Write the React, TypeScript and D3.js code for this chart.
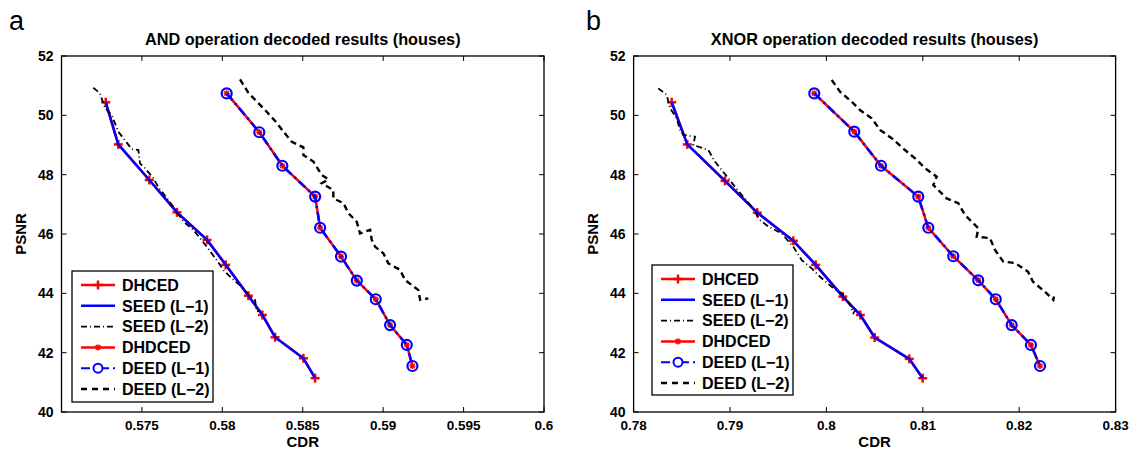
import React from "react";
import * as d3 from "d3";

// ---------- data ----------
const yTicks = [40, 42, 44, 46, 48, 50, 52];
const xTicksA = [0.575, 0.58, 0.585, 0.59, 0.595, 0.6];
const xTickLabelsA = ["0.575", "0.58", "0.585", "0.59", "0.595", "0.6"];
const xTicksB = [0.78, 0.79, 0.8, 0.81, 0.82, 0.83];
const xTickLabelsB = ["0.78", "0.79", "0.8", "0.81", "0.82", "0.83"];

// Panel a (AND)
const a_singleCDR = [0.57275, 0.57353, 0.57546, 0.57718, 0.57905, 0.58021, 0.58162, 0.58249, 0.58328, 0.58504, 0.58577];
const a_singlePSNR = [50.44, 49.02, 47.82, 46.73, 45.8, 44.96, 43.92, 43.27, 42.52, 41.81, 41.14];
const a_doubleCDR = [0.58027, 0.5823, 0.58373, 0.58577, 0.58608, 0.58738, 0.58836, 0.58954, 0.59043, 0.59147, 0.59182];
const a_doublePSNR = [50.74, 49.43, 48.3, 47.26, 46.21, 45.24, 44.43, 43.8, 42.93, 42.26, 41.55];
const a_seedL2CDR = [0.57198, 0.57239, 0.57271, 0.57312, 0.57353, 0.57384, 0.57437, 0.57478, 0.57488, 0.57519, 0.57571, 0.57613, 0.57633, 0.57695, 0.57758, 0.5782, 0.57903, 0.57965, 0.58006, 0.58058, 0.58131, 0.58162, 0.58203, 0.58214, 0.58234];
const a_seedL2PSNR = [50.93, 50.74, 50.24, 50.01, 49.45, 49.23, 48.86, 48.83, 48.38, 48.22, 47.88, 47.48, 47.37, 46.92, 46.42, 46.14, 45.57, 45.12, 44.79, 44.51, 44.17, 43.94, 43.78, 43.38, 43.44];
const a_deedL2CDR = [0.5811, 0.58162, 0.58224, 0.58276, 0.58338, 0.58386, 0.58432, 0.58504, 0.58504, 0.58566, 0.58618, 0.58659, 0.58618, 0.5869, 0.5869, 0.58753, 0.58784, 0.58836, 0.58856, 0.58919, 0.58929, 0.5895, 0.59001, 0.59032, 0.59105, 0.59136, 0.59219, 0.5923, 0.59281];
const a_deedL2PSNR = [51.21, 50.76, 50.41, 50.12, 49.75, 49.41, 49.11, 48.92, 48.66, 48.44, 47.99, 47.84, 47.71, 47.48, 47.2, 47.04, 46.7, 46.41, 46.02, 46.14, 45.8, 45.57, 45.35, 45.01, 44.79, 44.45, 44.11, 43.78, 43.83];

// Panel b (XNOR)
const b_singleCDR = [0.78395, 0.78557, 0.78948, 0.79283, 0.79657, 0.79889, 0.8017, 0.80352, 0.80501, 0.8086, 0.80999];
const b_singlePSNR = [50.44, 49.02, 47.79, 46.72, 45.77, 44.96, 43.89, 43.27, 42.51, 41.79, 41.14];
const b_doubleCDR = [0.79874, 0.80289, 0.80566, 0.80953, 0.81057, 0.81316, 0.81575, 0.81757, 0.81922, 0.82122, 0.82216];
const b_doublePSNR = [50.74, 49.45, 48.3, 47.26, 46.21, 45.25, 44.44, 43.8, 42.93, 42.26, 41.55];
const b_seedL2CDR = [0.78256, 0.78343, 0.78378, 0.78447, 0.78481, 0.78516, 0.78637, 0.78619, 0.78775, 0.78844, 0.78982, 0.79052, 0.79121, 0.79225, 0.79311, 0.79397, 0.79536, 0.79657, 0.79744, 0.79847, 0.79934, 0.80055, 0.80159, 0.8021, 0.80245, 0.80279, 0.80297];
const b_seedL2PSNR = [50.91, 50.69, 50.24, 49.9, 49.51, 49.34, 49.28, 49.0, 48.83, 48.44, 47.88, 47.59, 47.32, 46.92, 46.47, 46.25, 46.02, 45.57, 45.12, 44.84, 44.56, 44.22, 44.0, 43.78, 43.61, 43.33, 43.41];
const b_deedL2CDR = [0.80055, 0.80141, 0.80262, 0.80348, 0.8047, 0.80556, 0.80677, 0.80815, 0.80919, 0.81023, 0.81144, 0.81109, 0.81161, 0.81248, 0.81368, 0.81438, 0.81576, 0.81559, 0.81697, 0.81749, 0.81835, 0.81956, 0.82091, 0.82143, 0.82285, 0.82354, 0.82361];
const b_deedL2PSNR = [51.19, 50.8, 50.46, 50.18, 49.9, 49.51, 49.23, 48.83, 48.55, 48.22, 47.93, 47.65, 47.48, 47.2, 47.04, 46.64, 46.19, 45.91, 45.86, 45.46, 45.07, 45.02, 44.73, 44.39, 44.0, 43.78, 43.89];

const legendLabels = ["DHCED", "SEED (L\u22121)", "SEED (L\u22122)", "DHDCED", "DEED (L\u22121)", "DEED (L\u22122)"];

const zip = (xs: number[], ys: number[]) => xs.map((x, i) => [x, ys[i]] as [number, number]);

const FONT = "'Liberation Sans', Arial, sans-serif";
const RED = "#ff0000";
const BLUE = "#0000ff";

function Plus({ x, y, s = 4.5, color = RED, w = 2.5 }: any) {
  return (
    <g stroke={color} strokeWidth={w}>
      <line x1={x - s} x2={x + s} y1={y} y2={y} />
      <line x1={x} x2={x} y1={y - s} y2={y + s} />
    </g>
  );
}
function Star({ x, y, s = 3, color = RED, w = 1.5 }: any) {
  const d = s * 0.75;
  return (
    <g stroke={color} strokeWidth={w}>
      <line x1={x - s} x2={x + s} y1={y} y2={y} />
      <line x1={x} x2={x} y1={y - s} y2={y + s} />
      <line x1={x - d} x2={x + d} y1={y - d} y2={y + d} />
      <line x1={x - d} x2={x + d} y1={y + d} y2={y - d} />
    </g>
  );
}

function Panel(props: any) {
  const { x0, x1, domain, xTicks, xLabels, title, letter, letterX, single, double, seedL2, deedL2, legend } = props;
  const y0 = 56, y1 = 412;
  const x = d3.scaleLinear().domain(domain).range([x0, x1]);
  const y = d3.scaleLinear().domain([40, 52]).range([y1, y0]);
  const line = d3.line<[number, number]>().x((d) => x(d[0])).y((d) => y(d[1]));
  const cx = (x0 + x1) / 2;
  const tl = 5;
  const rowH = 20.8;
  const lx = legend.x, ly = legend.y;
  const sx1 = lx + 9, sx2 = lx + 43, tx = lx + 50;
  const rows = legendLabels.map((_, i) => ly + 14 + i * rowH);
  return (
    <g>
      <text x={letterX} y={30} fontFamily={FONT} fontSize={27}>{letter}</text>
      <text x={cx} y={44.5} fontFamily={FONT} fontSize={16.3} fontWeight="bold" textAnchor="middle">{title}</text>
      {/* ticks */}
      {xTicks.map((t: number, i: number) => (
        <g key={"xt" + i}>
          <line x1={x(t)} x2={x(t)} y1={y1} y2={y1 - tl} stroke="#000" strokeWidth={1} />
          <line x1={x(t)} x2={x(t)} y1={y0} y2={y0 + tl} stroke="#000" strokeWidth={1} />
          <text x={x(t)} y={429.5} fontFamily={FONT} fontSize={13.5} fontWeight="bold" textAnchor="middle">{xLabels[i]}</text>
        </g>
      ))}
      {yTicks.map((t, i) => (
        <g key={"yt" + i}>
          <line x1={x0} x2={x0 + tl} y1={y(t)} y2={y(t)} stroke="#000" strokeWidth={1} />
          <line x1={x1} x2={x1 - tl} y1={y(t)} y2={y(t)} stroke="#000" strokeWidth={1} />
          <text x={x0 - 8} y={y(t) + 5} fontFamily={FONT} fontSize={14} fontWeight="bold" textAnchor="end">{t}</text>
        </g>
      ))}
      <text x={cx} y={447} fontFamily={FONT} fontSize={15} fontWeight="bold" textAnchor="middle">CDR</text>
      <text transform={`translate(${x0 - 36},${(y0 + y1) / 2}) rotate(-90)`} fontFamily={FONT} fontSize={15} fontWeight="bold" textAnchor="middle">PSNR</text>

      {/* series */}
      <path d={line(single) || ""} fill="none" stroke={RED} strokeWidth={2.5} />
      {single.map((d: any, i: number) => <Plus key={"p" + i} x={x(d[0])} y={y(d[1])} />)}
      <path d={line(single) || ""} fill="none" stroke={BLUE} strokeWidth={2.5} />
      <path d={line(seedL2) || ""} fill="none" stroke="#000" strokeWidth={1.8} strokeDasharray="6,3,1,3" />
      <path d={line(double) || ""} fill="none" stroke={RED} strokeWidth={2.5} />
      {double.map((d: any, i: number) => <Star key={"s" + i} x={x(d[0])} y={y(d[1])} />)}
      <path d={line(double) || ""} fill="none" stroke={BLUE} strokeWidth={2.5} strokeDasharray="9,4,2,4" />
      {double.map((d: any, i: number) => <circle key={"c" + i} cx={x(d[0])} cy={y(d[1])} r={5} fill="none" stroke={BLUE} strokeWidth={2.2} />)}
      <path d={line(deedL2) || ""} fill="none" stroke="#000" strokeWidth={2.4} strokeDasharray="6,4" />

      {/* axes box */}
      <rect x={x0} y={y0} width={x1 - x0} height={y1 - y0} fill="none" stroke="#000" strokeWidth={1.3} />

      {/* legend */}
      <rect x={lx} y={ly} width={legend.w} height={legend.h} fill="#fff" stroke="#000" strokeWidth={1.3} />
      <line x1={sx1} x2={sx2} y1={rows[0]} y2={rows[0]} stroke={RED} strokeWidth={2.5} />
      <Plus x={(sx1 + sx2) / 2} y={rows[0]} />
      <line x1={sx1} x2={sx2} y1={rows[1]} y2={rows[1]} stroke={BLUE} strokeWidth={2.5} />
      <line x1={sx1} x2={sx2} y1={rows[2]} y2={rows[2]} stroke="#000" strokeWidth={1.8} strokeDasharray="6,3,1,3" />
      <line x1={sx1} x2={sx2} y1={rows[3]} y2={rows[3]} stroke={RED} strokeWidth={2.5} />
      <Star x={(sx1 + sx2) / 2} y={rows[3]} />
      <line x1={sx1} x2={sx2} y1={rows[4]} y2={rows[4]} stroke={BLUE} strokeWidth={2} strokeDasharray="9,4,2,4" />
      <circle cx={(sx1 + sx2) / 2} cy={rows[4]} r={4.5} fill="#fff" stroke={BLUE} strokeWidth={2} />
      <line x1={sx1} x2={sx2} y1={rows[5]} y2={rows[5]} stroke="#000" strokeWidth={2.4} strokeDasharray="6,5" />
      {legendLabels.map((l, i) => (
        <text key={"l" + i} x={tx} y={rows[i] + 5.7} fontFamily={FONT} fontSize={16} fontWeight="bold">{l}</text>
      ))}
    </g>
  );
}

export default function App() {
  return (
    <svg width={1140} height={459} style={{ position: "absolute", left: 0, top: 0, background: "#fff" }}>
      <rect x={0} y={0} width={1140} height={459} fill="#fff" />
      <Panel
        x0={61.5} x1={544} domain={[0.57, 0.6]} xTicks={xTicksA} xLabels={xTickLabelsA}
        title="AND operation decoded results (houses)" letter="a" letterX={9}
        single={zip(a_singleCDR, a_singlePSNR)} double={zip(a_doubleCDR, a_doublePSNR)}
        seedL2={zip(a_seedL2CDR, a_seedL2PSNR)} deedL2={zip(a_deedL2CDR, a_deedL2PSNR)}
        legend={{ x: 72, y: 271, w: 141, h: 131 }}
      />
      <Panel
        x0={633.6} x1={1115.6} domain={[0.78, 0.83]} xTicks={xTicksB} xLabels={xTickLabelsB}
        title="XNOR operation decoded results (houses)" letter="b" letterX={586}
        single={zip(b_singleCDR, b_singlePSNR)} double={zip(b_doubleCDR, b_doublePSNR)}
        seedL2={zip(b_seedL2CDR, b_seedL2PSNR)} deedL2={zip(b_deedL2CDR, b_deedL2PSNR)}
        legend={{ x: 652, y: 265, w: 141, h: 130 }}
      />
    </svg>
  );
}
